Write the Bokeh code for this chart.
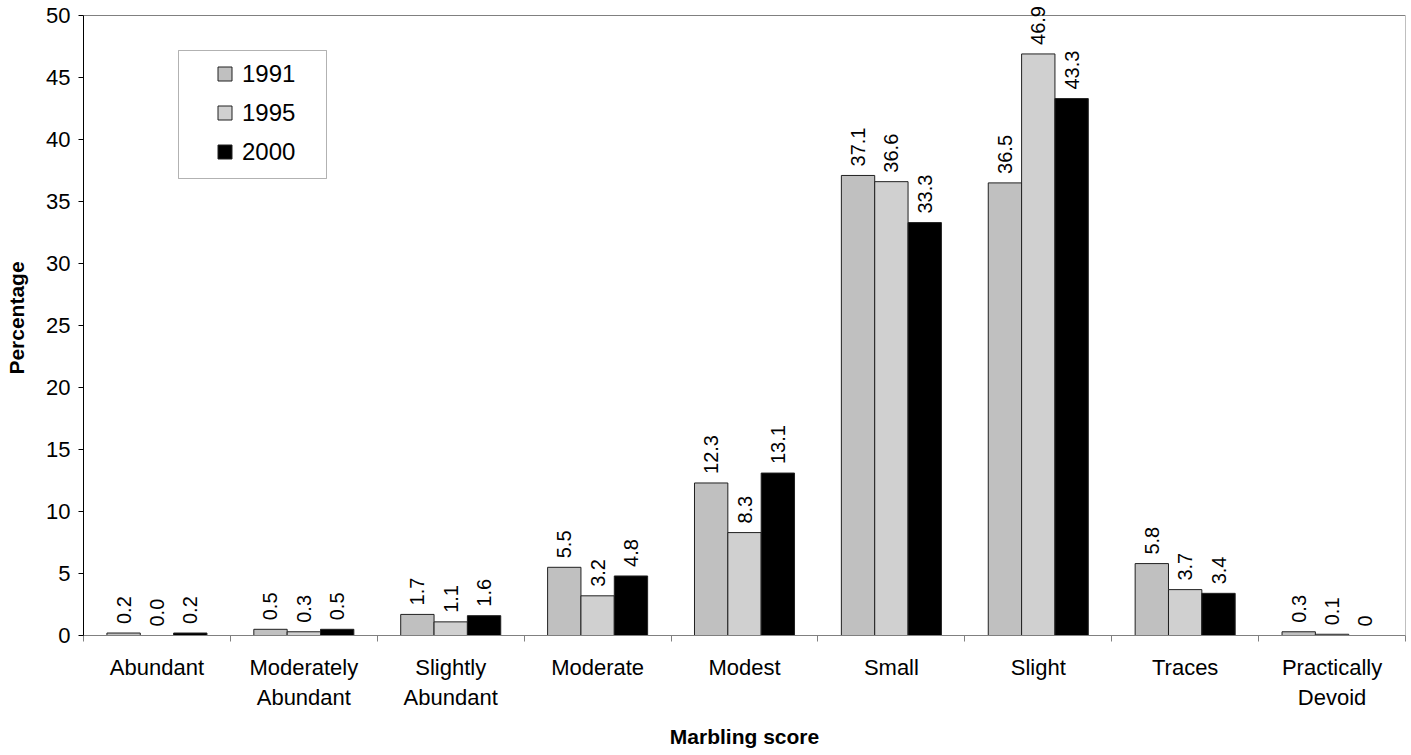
import math
from bokeh.plotting import figure
from bokeh.models import ColumnDataSource, FixedTicker, Legend, LegendItem, BoxAnnotation
from bokeh.core.properties import value
from bokeh.embed import file_html
from bokeh.resources import INLINE

categories = ["Abundant", "Moderately\nAbundant", "Slightly\nAbundant", "Moderate",
              "Modest", "Small", "Slight", "Traces", "Practically\nDevoid"]
years = ["1991", "1995", "2000"]
v1991 = [0.2, 0.5, 1.7, 5.5, 12.3, 37.1, 36.5, 5.8, 0.3]
v1995 = [0.0, 0.3, 1.1, 3.2, 8.3, 36.6, 46.9, 3.7, 0.1]
v2000 = [0.2, 0.5, 1.6, 4.8, 13.1, 33.3, 43.3, 3.4, 0.0]
lab1991 = ["0.2", "0.5", "1.7", "5.5", "12.3", "37.1", "36.5", "5.8", "0.3"]
lab1995 = ["0.0", "0.3", "1.1", "3.2", "8.3", "36.6", "46.9", "3.7", "0.1"]
lab2000 = ["0.2", "0.5", "1.6", "4.8", "13.1", "33.3", "43.3", "3.4", "0"]
y_ticks = [0, 5, 10, 15, 20, 25, 30, 35, 40, 45, 50]

series = [v1991, v1995, v2000]
labels = [lab1991, lab1995, lab2000]
colors = ["#c0c0c0", "#d0d0d0", "#000000"]
offsets = [-0.227, 0.0, 0.227]
bar_w = 0.227
FONT = "Liberation Sans"

y_max = y_ticks[-1]
x_max = len(categories)
# extra headroom above the top axis value so that labels above it are not clipped
y_top = y_max + 15 / 12.4

p = figure(width=1409, height=753, output_backend="svg", toolbar_location=None,
           x_range=(0, x_max), y_range=(0, y_top),
           min_border_left=83, min_border_top=0, min_border_right=4, min_border_bottom=118)
p.grid.visible = False
p.outline_line_color = None
p.background_fill_color = "white"
p.border_fill_color = "white"

centers = [i + 0.5 for i in range(len(categories))]

# plot-area border (top and right) at the axis limits
p.segment(x0=[0, x_max], y0=[y_max, 0], x1=[x_max, x_max], y1=[y_max, y_max],
          line_color="#808080", line_width=1)

# legend frame (canvas pixels)
box = BoxAnnotation(left=178, right=326, top=50, bottom=178,
                    left_units="canvas", right_units="canvas",
                    top_units="canvas", bottom_units="canvas",
                    fill_color="white", fill_alpha=1.0,
                    line_color="black", line_width=1)

legend_items = []
for k, yr in enumerate(years):
    xs = [c + offsets[k] for c in centers]
    src = ColumnDataSource(dict(x=xs, top=series[k], lab=labels[k]))
    p.vbar(x="x", top="top", bottom=0, width=bar_w, source=src,
           fill_color=colors[k], line_color="#202020", line_width=1)
    p.text(x="x", y="top", text="lab", source=src, angle=math.pi / 2,
           text_align="left", text_baseline="middle", y_offset=-9,
           text_font=value(FONT), text_font_size="20px", text_color="black")
    lr = p.scatter(x=[float("nan")], y=[float("nan")], marker="square", size=14,
                   fill_color=colors[k], line_color="#202020")
    legend_items.append(LegendItem(label=yr, renderers=[lr], index=0))

# x axis
xa = p.xaxis[0]
xa.ticker = FixedTicker(ticks=centers, minor_ticks=list(range(len(categories) + 1)))
xa.major_label_overrides = {c: categories[i] for i, c in enumerate(centers)}
xa.major_tick_out = 0
xa.major_tick_in = 0
xa.minor_tick_out = 6
xa.minor_tick_in = 0
xa.minor_tick_line_color = "#808080"
xa.axis_line_color = "#808080"
xa.major_label_text_font = FONT
xa.major_label_text_font_size = "22px"
xa.major_label_text_color = "black"
xa.major_label_standoff = 13
xa.axis_label = "Marbling score"
xa.axis_label_text_font = FONT
xa.axis_label_text_font_style = "bold"
xa.axis_label_text_font_size = "21px"
xa.axis_label_text_color = "black"
xa.axis_label_standoff = 12

# y axis
ya = p.yaxis[0]
ya.ticker = FixedTicker(ticks=y_ticks)
ya.bounds = (0, y_max)
ya.major_tick_out = 5
ya.major_tick_in = 0
ya.minor_tick_out = 0
ya.minor_tick_in = 0
ya.axis_line_color = "black"
ya.major_tick_line_color = "black"
ya.major_label_text_font = FONT
ya.major_label_text_font_size = "22px"
ya.major_label_text_color = "black"
ya.major_label_standoff = 8
ya.axis_label = "Percentage"
ya.axis_label_text_font = FONT
ya.axis_label_text_font_style = "bold"
ya.axis_label_text_font_size = "21px"
ya.axis_label_text_color = "black"
ya.axis_label_standoff = 15

p.add_layout(box)
legend = Legend(items=legend_items, location=(124, 466),
                glyph_width=35, glyph_height=35, label_standoff=0,
                label_height=35, spacing=4, padding=0,
                label_text_font=FONT, label_text_font_size="24px",
                label_text_color="black", label_text_baseline="middle",
                border_line_color=None, background_fill_alpha=0)
p.add_layout(legend)

open("out.html", "w").write(file_html(p, INLINE))
